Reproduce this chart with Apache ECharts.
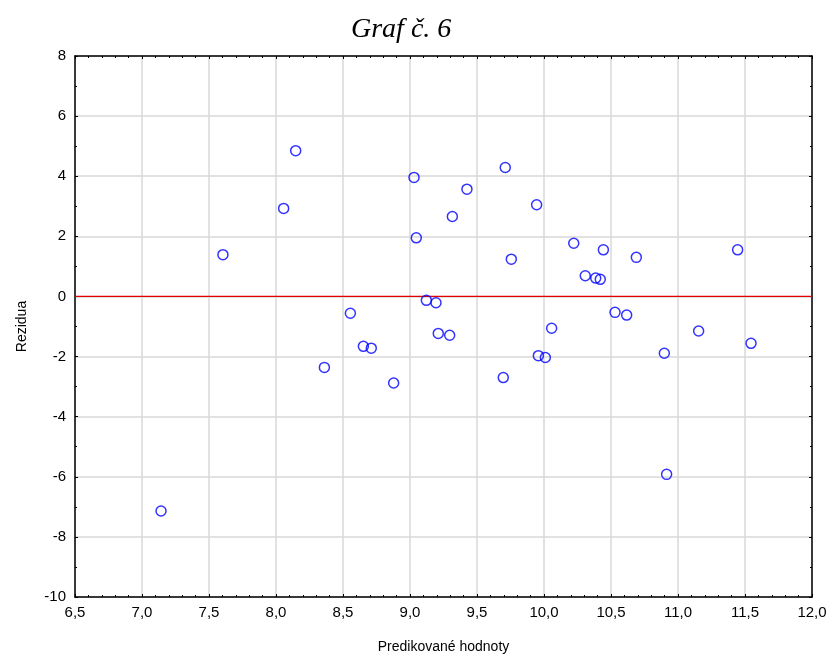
<!DOCTYPE html>
<html>
<head>
<meta charset="utf-8">
<script src="https://cdn.jsdelivr.net/npm/echarts@6/dist/echarts.min.js"></script>
<style>html,body{margin:0;padding:0;background:#fff}#c{width:832px;height:659px}</style>
</head>
<body>
<div id="c"></div>
<script>
var titleText = 'Graf č. 6';
var xName = 'Predikované hodnoty';
var yName = 'Rezidua';
var predicted = [7.604, 8.057, 8.147, 9.03, 9.047, 8.555, 9.122, 9.194, 9.211, 9.711, 9.425, 9.316, 9.945, 9.756, 10.222, 10.443, 10.689, 11.445, 10.308, 10.386, 10.42, 9.296, 10.057, 10.53, 10.617, 11.154, 11.545, 9.958, 10.01, 10.898, 9.696, 8.361, 8.652, 8.711, 8.878, 7.142, 10.915];
var residuals = [1.39, 2.93, 4.85, 3.96, 1.95, -0.56, -0.13, -0.21, -1.23, 4.29, 3.57, 2.66, 3.05, 1.24, 1.77, 1.55, 1.30, 1.55, 0.69, 0.61, 0.57, -1.29, -1.06, -0.53, -0.62, -1.15, -1.56, -1.97, -2.03, -1.89, -2.70, -2.36, -1.66, -1.72, -2.88, -7.14, -5.92];
var zeroLine = [[6.5, 0], [12.0, 0]];

var pts = predicted.map(function (x, i) { return [x, residuals[i]]; });
var fmtX = function (v) { return v.toFixed(1).replace('.', ','); };
var labelFont = { color: '#000', fontFamily: 'Liberation Sans, Arial, sans-serif', fontSize: 15 };
var lineStyle = { color: '#000', width: 1.5 };

var chart = echarts.init(document.getElementById('c'), null, { renderer: 'canvas' });
chart.setOption({
  animation: false,
  backgroundColor: '#fff',
  title: {
    text: titleText, left: 346, top: 11,
    textStyle: { fontFamily: 'Liberation Serif, Times New Roman, serif', fontStyle: 'italic', fontWeight: 'normal', fontSize: 28, color: '#000' }
  },
  grid: { left: 75, right: 20, top: 56, bottom: 60.5, containLabel: false },
  xAxis: [{
    type: 'value', min: 6.5, max: 12.0, interval: 0.5,
    name: xName, nameLocation: 'middle', nameGap: 43,
    nameTextStyle: { color: '#000', fontFamily: 'Liberation Sans, Arial, sans-serif', fontSize: 14 },
    axisLine: { show: true, onZero: false, lineStyle: lineStyle },
    axisTick: { show: true, inside: true, length: 3, lineStyle: { color: '#000' } },
    minorTick: { show: true, splitNumber: 5, length: 2, lineStyle: { color: '#000' } },
    axisLabel: Object.assign({ formatter: fmtX, margin: 8 }, labelFont),
    splitLine: { show: true, lineStyle: { color: '#d9d9d9', width: 1.5 } }
  }, {
    type: 'value', min: 6.5, max: 12.0, interval: 0.5, position: 'top',
    axisLine: { show: true, onZero: false, lineStyle: lineStyle },
    axisTick: { show: true, inside: true, length: 3, lineStyle: { color: '#000' } },
    minorTick: { show: true, splitNumber: 5, length: 2, lineStyle: { color: '#000' } },
    axisLabel: { show: false }, splitLine: { show: false }
  }],
  yAxis: [{
    type: 'value', min: -10, max: 8, interval: 2,
    name: yName, nameLocation: 'middle', nameGap: 46, nameRotate: 90,
    nameTextStyle: { color: '#000', fontFamily: 'Liberation Sans, Arial, sans-serif', fontSize: 14 },
    axisLine: { show: true, onZero: false, lineStyle: lineStyle },
    axisTick: { show: true, inside: true, length: 3, lineStyle: { color: '#000' } },
    minorTick: { show: true, splitNumber: 2, length: 2, lineStyle: { color: '#000' } },
    axisLabel: Object.assign({ margin: 9 }, labelFont),
    splitLine: { show: true, lineStyle: { color: '#d9d9d9', width: 1.5 } }
  }, {
    type: 'value', min: -10, max: 8, interval: 2, position: 'right',
    axisLine: { show: true, onZero: false, lineStyle: lineStyle },
    axisTick: { show: true, inside: true, length: 3, lineStyle: { color: '#000' } },
    minorTick: { show: true, splitNumber: 2, length: 2, lineStyle: { color: '#000' } },
    axisLabel: { show: false }, splitLine: { show: false }
  }],
  series: [{
    type: 'line', data: zeroLine, xAxisIndex: 0, yAxisIndex: 0,
    symbol: 'none', lineStyle: { color: '#e00000', width: 1.2 }, z: 2, silent: true
  }, {
    type: 'scatter', data: pts, xAxisIndex: 0, yAxisIndex: 0,
    symbol: 'circle', symbolSize: 10,
    itemStyle: { color: 'rgba(255,255,255,0)', borderColor: '#0000ff', borderWidth: 1.5 },
    z: 3
  }]
});
</script>
</body>
</html>
